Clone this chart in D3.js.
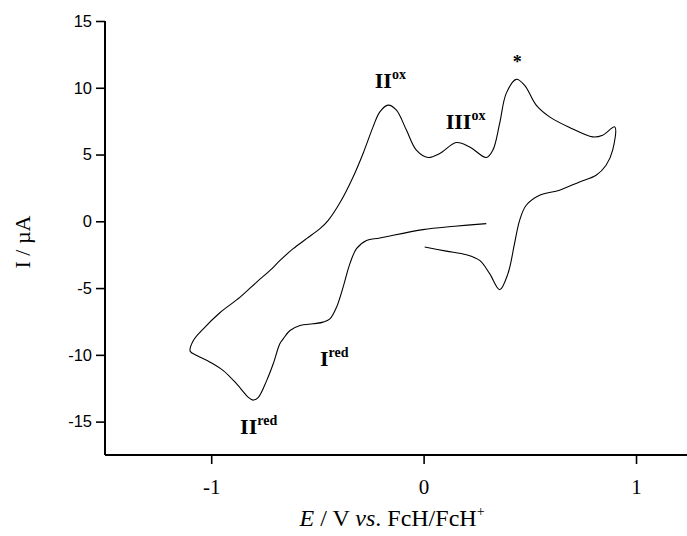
<!DOCTYPE html>
<html>
<head>
<meta charset="utf-8">
<script src="https://cdn.jsdelivr.net/npm/d3@7"></script>
<style>
  body { margin: 0; background: #fff; }
  svg { display: block; }
</style>
</head>
<body>
<svg width="687" height="536"></svg>
<script>
// potential (V vs FcH/FcH+) and current (uA), in scan order
const potential = [0.295, 0.146, -0.003, -0.206, -0.269, -0.316, -0.347, -0.379, -0.41, -0.441,
  -0.473, -0.52, -0.582, -0.629, -0.661, -0.677, -0.708, -0.739, -0.778, -0.803,
  -0.825, -0.88, -0.943, -1.005, -1.068, -1.099, -1.084, -1.037, -0.958, -0.864,
  -0.786, -0.723, -0.676, -0.614, -0.551, -0.488, -0.449, -0.39, -0.332, -0.285,
  -0.238, -0.206, -0.167, -0.128, -0.081, -0.034, 0.021, 0.076, 0.154, 0.217,
  0.295, 0.326, 0.358, 0.389, 0.436, 0.475, 0.53, 0.593, 0.687, 0.796,
  0.843, 0.9, 0.89, 0.859, 0.812, 0.734, 0.64, 0.546, 0.483, 0.452,
  0.428, 0.397, 0.358, 0.311, 0.264, 0.201, 0.107, 0.005];
const current = [-0.17, -0.375, -0.62, -1.25, -1.43, -2.05, -3.17, -4.93, -6.43, -7.3,
  -7.55, -7.67, -7.8, -8.18, -8.8, -9.17, -10.67, -11.93, -13.18, -13.39,
  -13.18, -12.18, -11.18, -10.55, -10.05, -9.73, -8.93, -8.05, -6.83, -5.68,
  -4.55, -3.68, -2.93, -2.05, -1.3, -0.55, 0.075, 1.5, 3.32, 5.08,
  7.07, 8.2, 8.7, 8.33, 6.83, 5.33, 4.78, 5.08, 5.9, 5.57,
  4.78, 5.33, 7.33, 9.58, 10.63, 10.2, 8.7, 7.82, 7.03, 6.32,
  6.45, 7.07, 5.33, 4.2, 3.45, 2.95, 2.33, 1.95, 1.2, 0.075,
  -1.67, -3.92, -5.12, -3.92, -2.93, -2.5, -2.23, -1.93];

const yMajor = [-15, -10, -5, 0, 5, 10, 15];
const yMinor = [-17.5, -12.5, -7.5, -2.5, 2.5, 7.5, 12.5];
const xMajor = [-1, 0, 1];
const xMinor = [-1.5, -0.5, 0.5];

// peak labels: name, superscript, E, I
const peakName = ['II', 'III', '*', 'I', 'II'];
const peakSup = ['ox', 'ox', '', 'red', 'red'];
const peakE = [-0.23, 0.104, 0.441, -0.488, -0.864];
const peakI = [9.98, 6.9, 11.48, -10.8, -15.9];

const svg = d3.select('svg');
const width = +svg.attr('width');
const height = +svg.attr('height');

const margin = {left: 105, top: 21, bottom: 81};

const x = d3.scaleLinear().domain([-1.5, 1.24]).range([margin.left, width]);
const y = d3.scaleLinear().domain([-17.5, 15]).range([height - margin.bottom, margin.top]);

const fmt = d => String(d);

// y axis
const yAxis = svg.append('g').attr('transform', `translate(${margin.left},0)`);
yAxis.call(d3.axisLeft(y).tickValues(yMinor).tickSize(6).tickFormat(''));
yAxis.call(d3.axisLeft(y).tickValues(yMajor).tickSize(9).tickPadding(4).tickFormat(fmt));
yAxis.selectAll('.domain').remove();
yAxis.selectAll('text')
  .attr('font-family', 'Liberation Sans, Arial, sans-serif')
  .attr('font-size', 16.5)
  .attr('fill', '#000');

// x axis
const xAxis = svg.append('g').attr('transform', `translate(0,${height - margin.bottom})`);
xAxis.call(d3.axisBottom(x).tickValues(xMinor).tickSize(6).tickFormat(''));
xAxis.call(d3.axisBottom(x).tickValues(xMajor).tickSize(9).tickPadding(15).tickFormat(fmt));
xAxis.selectAll('.domain').remove();
xAxis.selectAll('text')
  .attr('font-family', 'Liberation Serif, Times New Roman, serif')
  .attr('font-size', 21)
  .attr('fill', '#000');

svg.selectAll('.tick line').attr('stroke', '#000').attr('stroke-width', 1.6);

// axis lines
svg.append('line')
  .attr('x1', x(-1.5)).attr('x2', x(-1.5))
  .attr('y1', y(15)).attr('y2', y(-17.5))
  .attr('stroke', '#000').attr('stroke-width', 2);
svg.append('line')
  .attr('x1', x(-1.5)).attr('x2', x(1.24))
  .attr('y1', y(-17.5)).attr('y2', y(-17.5))
  .attr('stroke', '#000').attr('stroke-width', 2);

// CV trace
const pts = potential.map((e, k) => [e, current[k]]);
const line = d3.line()
  .x(d => x(d[0]))
  .y(d => y(d[1]))
  .curve(d3.curveCatmullRom.alpha(0.5));

svg.append('path')
  .datum(pts)
  .attr('d', line)
  .attr('fill', 'none')
  .attr('stroke', '#000')
  .attr('stroke-width', 1.1);

// peak labels
peakName.forEach((name, k) => {
  const t = svg.append('text')
    .attr('x', x(peakE[k]))
    .attr('y', y(peakI[k]))
    .attr('font-family', 'Liberation Serif, Times New Roman, serif')
    .attr('font-weight', 'bold')
    .attr('font-size', name === '*' ? 18 : 22)
    .attr('text-anchor', name === '*' ? 'middle' : 'start')
    .attr('fill', '#000');
  t.append('tspan').text(name);
  if (peakSup[k]) {
    t.append('tspan').attr('font-size', 14).attr('dy', -9).text(peakSup[k]);
  }
});

// axis titles
svg.append('text')
  .attr('transform', `translate(30,242) rotate(-90)`)
  .attr('text-anchor', 'middle')
  .attr('font-family', 'Liberation Serif, Times New Roman, serif')
  .attr('font-size', 22)
  .text('I / µA');

const xt = svg.append('text')
  .attr('x', 392)
  .attr('y', 526)
  .attr('text-anchor', 'middle')
  .attr('font-family', 'Liberation Serif, Times New Roman, serif')
  .attr('font-size', 24);
xt.append('tspan').attr('font-style', 'italic').text('E');
xt.append('tspan').text(' / V ');
xt.append('tspan').attr('font-style', 'italic').text('vs');
xt.append('tspan').text('. FcH/FcH');
xt.append('tspan').attr('font-size', 14).attr('dy', -10).text('+');
</script>
</body>
</html>
